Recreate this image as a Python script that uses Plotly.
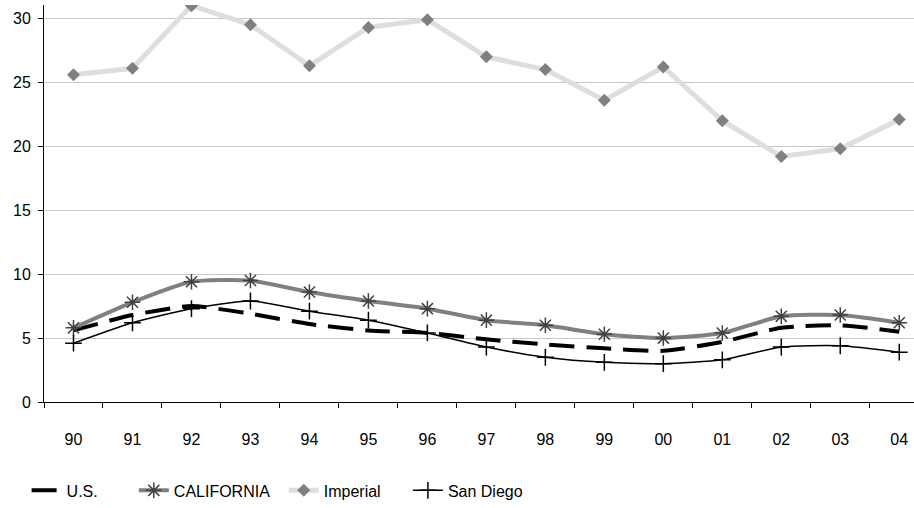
import plotly.graph_objects as go

years = ["90", "91", "92", "93", "94", "95", "96", "97", "98", "99", "00", "01", "02", "03", "04"]
us = [5.6, 6.8, 7.5, 6.9, 6.1, 5.6, 5.4, 4.9, 4.5, 4.2, 4.0, 4.7, 5.8, 6.0, 5.5]
california = [5.8, 7.8, 9.4, 9.5, 8.6, 7.9, 7.3, 6.4, 6.0, 5.3, 5.0, 5.4, 6.7, 6.8, 6.2]
imperial = [25.6, 26.1, 31.0, 29.5, 26.3, 29.3, 29.9, 27.0, 26.0, 23.6, 26.2, 22.0, 19.2, 19.8, 22.1]
san_diego = [4.6, 6.2, 7.3, 7.9, 7.1, 6.4, 5.4, 4.3, 3.5, 3.1, 3.0, 3.3, 4.3, 4.4, 3.9]
y_ticks = [0, 5, 10, 15, 20, 25, 30]

fig = go.Figure()

fig.add_trace(go.Scatter(
    x=years, y=us, name="U.S." + "\u00a0" * 7, mode="lines",
    line=dict(color="black", width=4, dash="25px,12px", shape="spline", smoothing=0.6),
))
fig.add_trace(go.Scatter(
    x=years, y=california, name="CALIFORNIA" + "\u00a0" * 2, mode="lines+markers",
    line=dict(color="#808080", width=4, shape="spline", smoothing=0.6),
    marker=dict(symbol="asterisk-open", size=13, color="#404040",
                line=dict(color="#404040", width=1.5)),
))
fig.add_trace(go.Scatter(
    x=years, y=imperial, name="Imperial" + "\u00a0" * 5, mode="lines+markers",
    line=dict(color="#dedede", width=5),
    marker=dict(symbol="diamond", size=10, color="#808080"),
))
fig.add_trace(go.Scatter(
    x=years, y=san_diego, name="San Diego", mode="lines+markers",
    line=dict(color="black", width=1.5, shape="spline", smoothing=0.6),
    marker=dict(symbol="cross-thin-open", size=12, color="black",
                line=dict(color="black", width=1.5)),
))

fig.update_layout(
    width=914, height=508,
    margin=dict(l=44, r=0, t=5, b=95),
    paper_bgcolor="white", plot_bgcolor="white",
    font=dict(family="Liberation Sans, Arial, sans-serif", size=16, color="black"),
    showlegend=True,
    legend=dict(orientation="h", x=-0.02, xanchor="left", y=-0.18, yanchor="top",
                font=dict(size=16), itemwidth=30, traceorder="normal"),
)
fig.update_xaxes(
    type="category", range=[-0.5, 14.25],
    showline=True, linecolor="black", linewidth=1,
    ticks="outside", ticklen=5, tickcolor="black", tickson="boundaries",
    ticklabelstandoff=23,
    showgrid=False, zeroline=False,
)
fig.update_yaxes(
    range=[0, 31.05], tickvals=y_ticks,
    showline=True, linecolor="black", linewidth=1,
    ticks="outside", ticklen=5, tickcolor="black", ticklabelstandoff=4,
    showgrid=True, gridcolor="#c8c8c8", gridwidth=1, zeroline=False,
)

fig.write_html("out.html")
